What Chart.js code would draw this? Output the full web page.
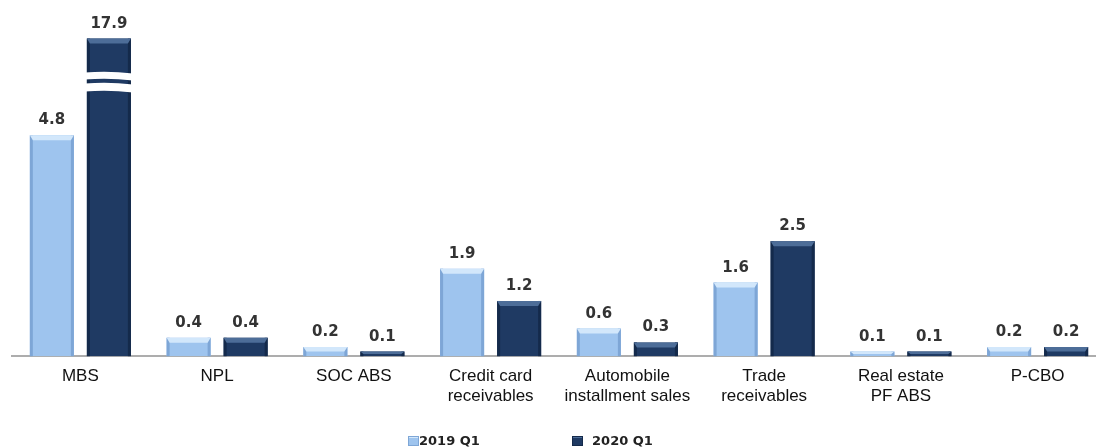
<!DOCTYPE html>
<html>
<head>
<meta charset="utf-8">
<script src="https://cdn.jsdelivr.net/npm/chart.js@4"></script>
<style>
  html, body { margin: 0; padding: 0; background: #fff; overflow: hidden; }
  #wrap { position: relative; width: 1096px; height: 448px; overflow: hidden; }
  #wrap canvas { position: absolute; left: 0; top: 0; }
  .lg { position: absolute; top: 434px; font: bold 13px "DejaVu Sans", sans-serif; color: #222; line-height: 14px; white-space: nowrap; }
  .lg i { display: inline-block; width: 11px; height: 10px; vertical-align: -1px; }
</style>
</head>
<body>
<div id="wrap">
  <canvas id="abs"></canvas>
  <div class="lg" id="lg0" style="left:408px"><i></i></div>
  <div class="lg" id="lg1" style="left:572px"><i></i></div>
</div>
<script>
// ---- data (trillion won) ----
const categories = [
  ["MBS"], ["NPL"], ["SOC ABS"], ["Credit card", "receivables"],
  ["Automobile", "installment sales"], ["Trade", "receivables"],
  ["Real estate", "PF ABS"], ["P-CBO"]
];
const seriesNames = ["2019 Q1", "2020 Q1"];
const values2019 = [4.8, 0.4, 0.2, 1.9, 0.6, 1.6, 0.1, 0.2];
const values2020 = [17.9, 0.4, 0.1, 1.2, 0.3, 2.5, 0.1, 0.2];
const breakAt = 6.9;   // bars taller than this are cut and drawn with a break mark

(function(){
  const LIGHT = { fill: "#9ec4ee", edge: "#7ea6d6", cap: "#d2e7fb" };
  const DARK  = { fill: "#1f3a63", edge: "#142a4b", cap: "#4d6d98" };
  const styles = [LIGHT, DARK];
  const raw = [values2019, values2020];

  // legend swatches + text
  [0, 1].forEach(i => {
    const el = document.getElementById("lg" + i);
    const s = styles[i];
    el.querySelector("i").style.background =
      "linear-gradient(" + s.cap + " 0 25%, " + s.fill + " 25% 100%)";
    el.querySelector("i").style.boxShadow = "inset 0 0 0 1px " + s.edge;
    el.appendChild(document.createTextNode((i ? "\u00a0\u00a0" : "") + seriesNames[i]));
  });

  // bevel look, break mark and value labels
  const decor = {
    id: "decor",
    afterDatasetsDraw(chart) {
      const ctx = chart.ctx;
      ctx.save();
      chart.data.datasets.forEach((ds, i) => {
        const s = styles[i];
        chart.getDatasetMeta(i).data.forEach((bar, j) => {
          const p = bar.getProps(["x", "y", "base", "width"], true);
          const l = p.x - p.width / 2, r = p.x + p.width / 2;
          const h = p.base - p.y;
          // sides
          ctx.fillStyle = s.edge;
          ctx.fillRect(l, p.y, 3, h);
          ctx.fillRect(r - 3, p.y, 3, h);
          // top cap
          const cap = Math.min(5, h / 2);
          ctx.fillStyle = s.cap;
          ctx.beginPath();
          ctx.moveTo(l, p.y);
          ctx.lineTo(r, p.y);
          ctx.lineTo(r - 3, p.y + cap);
          ctx.lineTo(l + 3, p.y + cap);
          ctx.closePath();
          ctx.fill();

          const v = raw[i][j];
          if (v > breakAt) {
            ctx.fillStyle = "#fff";
            [[34, 41], [45, 53]].forEach(([a, b]) => {
              ctx.beginPath();
              ctx.moveTo(l - 2, p.y + a);
              ctx.quadraticCurveTo(p.x, p.y + a - 2, r + 2, p.y + a + 1);
              ctx.lineTo(r + 2, p.y + b + 1);
              ctx.quadraticCurveTo(p.x, p.y + b - 2, l - 2, p.y + b);
              ctx.closePath();
              ctx.fill();
            });
          }
          ctx.fillStyle = "#333";
          ctx.font = 'bold 15px "DejaVu Sans", sans-serif';
          ctx.textAlign = "center";
          ctx.textBaseline = "alphabetic";
          ctx.fillText(v.toFixed(1), p.x, p.y - 11);
        });
      });
      ctx.restore();
    }
  };

  const el = document.getElementById("abs");
  el.width = 1110; el.height = 448;

  new Chart(el, {
    type: "bar",
    data: {
      labels: categories,
      datasets: raw.map((vals, i) => ({
        label: seriesNames[i],
        data: vals.map(v => Math.min(v, breakAt)),
        backgroundColor: styles[i].fill,
        borderWidth: 0,
        categoryPercentage: 0.834,
        barPercentage: 0.772
      }))
    },
    options: {
      responsive: false,
      animation: false,
      layout: { padding: { left: 12, right: 4, top: 11, bottom: 31 } },
      plugins: { legend: { display: false }, tooltip: { enabled: false } },
      scales: {
        x: {
          grid: { display: false, drawTicks: false },
          border: { display: true, color: "#adadad", width: 2 },
          ticks: {
            color: "#111",
            padding: 10,
            maxRotation: 0,
            autoSkip: false,
            font: { family: '"Liberation Sans", Arial, sans-serif', size: 17 }
          }
        },
        y: { display: false, min: 0, max: 7.5 }
      }
    },
    plugins: [decor]
  });
})();
</script>
</body>
</html>
